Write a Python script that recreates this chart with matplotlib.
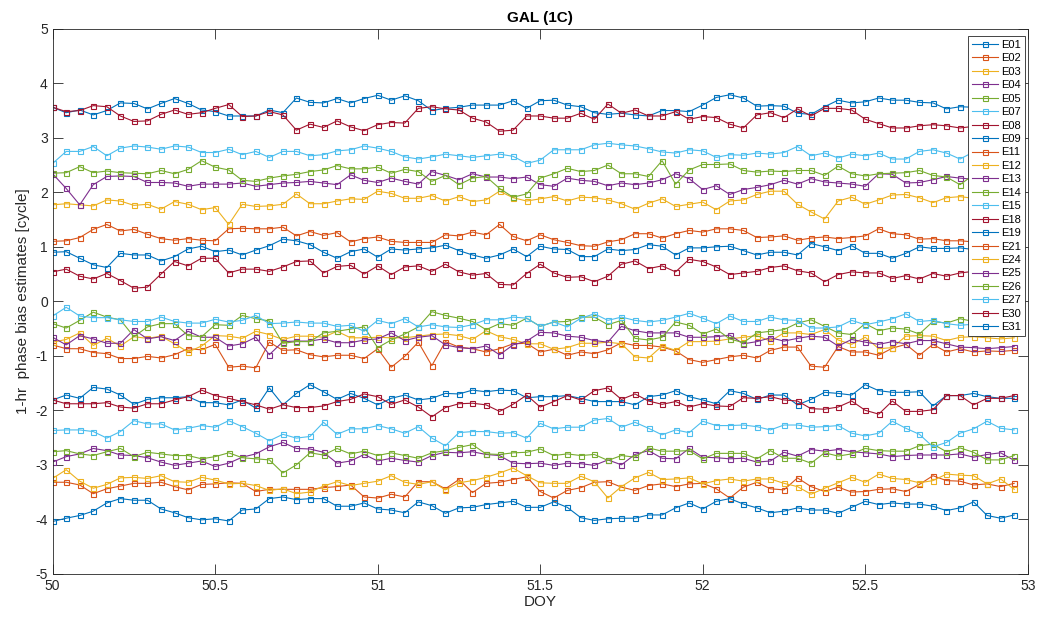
import numpy as np
import matplotlib
matplotlib.use("Agg")
import matplotlib.pyplot as plt

plt.rcParams['font.family'] = ['Liberation Sans', 'DejaVu Sans']
plt.rcParams['axes.unicode_minus'] = False

# hourly epochs, DOY 50.0 ... 52.958 (72 samples)
doy = 50 + np.arange(72) / 24

sats = ["E01", "E02", "E03", "E04", "E05", "E07", "E08", "E09", "E11", "E12", "E13",
        "E14", "E15", "E18", "E19", "E21", "E24", "E25", "E26", "E27", "E30", "E31"]

e01 = [3.56, 3.46, 3.51, 3.42, 3.50, 3.64, 3.63, 3.53, 3.63, 3.72, 3.63, 3.51, 3.48, 3.40, 3.40, 3.40, 3.51, 3.46, 3.73, 3.65, 3.64, 3.72, 3.64, 3.72, 3.78,
       3.69, 3.77, 3.68, 3.50, 3.54, 3.56, 3.60, 3.60, 3.60, 3.68, 3.54, 3.68, 3.69, 3.60, 3.57, 3.46, 3.43, 3.45, 3.42, 3.40, 3.50, 3.50, 3.48,
       3.60, 3.74, 3.79, 3.73, 3.58, 3.59, 3.58, 3.45, 3.43, 3.57, 3.69, 3.64, 3.66, 3.73, 3.69, 3.69, 3.65, 3.64, 3.53, 3.57, 3.56, 3.54, 3.57, 3.54]
e02 = [1.10, 1.11, 1.17, 1.32, 1.41, 1.29, 1.32, 1.23, 1.15, 1.12, 1.15, 1.12, 1.11, 1.33, 1.34, 1.33, 1.33, 1.36, 1.20, 1.28, 1.21, 1.26, 1.09, 1.15, 1.18,
       1.10, 1.08, 1.08, 1.08, 1.22, 1.20, 1.27, 1.22, 1.41, 1.19, 1.11, 1.22, 1.13, 1.08, 1.02, 1.01, 1.09, 1.13, 1.24, 1.24, 1.16, 1.24, 1.30,
       1.27, 1.33, 1.33, 1.30, 1.17, 1.18, 1.20, 1.12, 1.16, 1.18, 1.15, 1.17, 1.20, 1.33, 1.24, 1.22, 1.14, 1.15, 1.11, 1.11, 1.09, 1.07, 1.08, 1.06]
e03 = [1.77, 1.79, 1.77, 1.75, 1.86, 1.84, 1.76, 1.78, 1.69, 1.83, 1.78, 1.68, 1.72, 1.41, 1.78, 1.74, 1.75, 1.78, 1.97, 1.79, 1.79, 1.84, 1.88, 1.87, 2.02,
       1.98, 1.89, 1.89, 1.94, 1.84, 1.92, 1.83, 1.86, 2.02, 1.90, 1.84, 1.88, 1.92, 1.84, 1.91, 1.90, 1.86, 1.79, 1.69, 1.80, 1.88, 1.74, 1.78,
       1.82, 1.68, 1.84, 1.86, 1.96, 2.02, 2.02, 1.78, 1.64, 1.51, 1.84, 1.91, 1.78, 1.86, 1.95, 1.96, 1.90, 1.81, 1.90, 1.92, 1.89, 1.88, 1.90, 1.87]
e04 = [2.34, 2.07, 1.77, 2.14, 2.29, 2.30, 2.29, 2.18, 2.18, 2.17, 2.11, 2.15, 2.15, 2.15, 2.17, 2.11, 2.14, 2.17, 2.18, 2.20, 2.17, 2.14, 2.32, 2.22, 2.18,
       2.26, 2.20, 2.15, 2.38, 2.31, 2.23, 2.34, 2.28, 2.28, 2.25, 2.28, 2.14, 2.11, 2.26, 2.22, 2.20, 2.12, 2.17, 2.14, 2.17, 2.23, 2.34, 2.25,
       2.05, 2.12, 1.96, 2.05, 2.09, 2.14, 2.22, 2.15, 2.25, 2.19, 2.17, 2.15, 2.11, 2.34, 2.33, 2.17, 2.18, 2.23, 2.29, 2.26, 2.24, 2.20, 2.18, 2.19]
e05 = [2.35, 2.36, 2.47, 2.36, 2.39, 2.36, 2.35, 2.34, 2.40, 2.34, 2.42, 2.58, 2.46, 2.41, 2.22, 2.20, 2.26, 2.30, 2.33, 2.38, 2.41, 2.49, 2.43, 2.43, 2.46,
       2.35, 2.42, 2.38, 2.20, 2.31, 2.14, 2.26, 2.29, 2.07, 1.91, 1.97, 2.26, 2.34, 2.44, 2.38, 2.40, 2.50, 2.34, 2.34, 2.29, 2.58, 2.15, 2.41,
       2.51, 2.51, 2.52, 2.40, 2.37, 2.39, 2.38, 2.40, 2.40, 2.31, 2.48, 2.34, 2.30, 2.34, 2.35, 2.36, 2.40, 2.31, 2.28, 2.14, 2.32, 2.29, 2.27, 2.24]
e07 = [2.53, 2.75, 2.75, 2.84, 2.67, 2.81, 2.85, 2.83, 2.79, 2.85, 2.83, 2.73, 2.73, 2.79, 2.69, 2.75, 2.64, 2.75, 2.75, 2.67, 2.69, 2.76, 2.78, 2.85, 2.81,
       2.75, 2.65, 2.61, 2.65, 2.70, 2.67, 2.64, 2.67, 2.70, 2.66, 2.53, 2.59, 2.78, 2.78, 2.78, 2.87, 2.90, 2.87, 2.85, 2.80, 2.74, 2.72, 2.78,
       2.76, 2.64, 2.69, 2.68, 2.72, 2.70, 2.73, 2.84, 2.67, 2.72, 2.63, 2.70, 2.67, 2.72, 2.61, 2.61, 2.75, 2.78, 2.72, 2.61, 2.74, 2.70, 2.72, 2.69]
e08 = [3.56, 3.48, 3.50, 3.59, 3.57, 3.40, 3.30, 3.31, 3.43, 3.51, 3.43, 3.46, 3.54, 3.61, 3.39, 3.40, 3.48, 3.42, 3.14, 3.25, 3.19, 3.31, 3.20, 3.13, 3.24,
       3.28, 3.27, 3.54, 3.57, 3.53, 3.51, 3.36, 3.29, 3.12, 3.14, 3.40, 3.40, 3.36, 3.36, 3.45, 3.34, 3.62, 3.45, 3.51, 3.40, 3.40, 3.48, 3.34,
       3.39, 3.37, 3.25, 3.18, 3.42, 3.46, 3.37, 3.53, 3.40, 3.54, 3.54, 3.51, 3.34, 3.26, 3.18, 3.18, 3.22, 3.24, 3.22, 3.18, 3.21, 3.22, 3.20, 3.19]
e09 = [0.90, 0.91, 0.79, 0.67, 0.62, 0.88, 0.85, 0.85, 0.74, 0.82, 0.96, 1.01, 0.91, 0.94, 0.85, 0.94, 1.02, 1.14, 1.11, 1.04, 0.90, 0.79, 0.91, 0.96, 0.81,
       0.96, 0.94, 0.96, 0.98, 1.03, 0.93, 0.85, 0.79, 0.85, 0.96, 0.82, 1.01, 0.96, 0.95, 0.82, 0.82, 0.96, 0.93, 0.95, 1.04, 1.01, 0.85, 0.98,
       0.98, 1.00, 1.01, 0.93, 0.85, 0.90, 0.90, 0.85, 1.06, 1.00, 0.93, 1.02, 0.88, 0.88, 0.79, 0.88, 1.00, 0.97, 0.97, 0.98, 0.95, 0.96, 0.94, 0.95]
e11 = [-0.80, -0.87, -0.87, -0.94, -0.96, -1.05, -1.05, -1.01, -1.04, -0.98, -0.87, -0.89, -0.79, -1.21, -1.19, -1.22, -0.75, -0.90, -0.89, -0.98, -1.02, -0.99, -0.99, -1.05, -0.87,
       -1.21, -1.01, -0.75, -1.18, -0.74, -0.84, -0.87, -0.93, -0.87, -0.78, -0.77, -0.93, -0.88, -0.99, -0.93, -0.96, -0.89, -0.76, -0.81, -0.81, -0.84, -0.91, -1.07,
       -1.12, -1.07, -1.02, -0.99, -1.04, -0.90, -0.84, -0.84, -1.19, -1.21, -0.83, -0.93, -0.93, -0.99, -0.86, -0.79, -0.99, -0.79, -0.93, -0.87, -0.93, -0.91, -0.92, -0.90]
e12 = [-0.75, -0.70, -0.58, -0.81, -0.68, -0.82, -0.65, -0.68, -0.64, -0.78, -0.93, -0.82, -0.63, -0.64, -0.68, -0.55, -0.61, -0.70, -0.64, -0.64, -0.66, -0.55, -0.67, -0.67, -0.66,
       -0.67, -0.67, -0.64, -0.61, -0.60, -0.63, -0.70, -0.54, -0.65, -0.70, -0.78, -0.78, -0.88, -0.85, -0.77, -0.77, -0.75, -0.78, -1.02, -1.04, -0.82, -0.90, -0.74,
       -0.74, -0.73, -0.69, -0.66, -0.63, -0.73, -0.58, -0.58, -0.61, -0.52, -0.71, -0.79, -0.66, -0.87, -0.85, -0.64, -0.63, -0.64, -0.72, -0.66, -0.65, -0.67, -0.69, -0.67]
e13 = [-0.66, -0.80, -0.63, -0.69, -0.77, -0.77, -0.52, -0.69, -0.65, -0.72, -0.55, -0.66, -0.66, -0.82, -0.78, -0.66, -0.98, -0.74, -0.73, -0.73, -0.69, -0.76, -0.76, -0.71, -0.69,
       -0.58, -0.72, -0.66, -0.63, -0.80, -0.85, -0.87, -0.82, -0.98, -0.80, -0.73, -0.57, -0.58, -0.64, -0.66, -0.72, -0.75, -0.46, -0.54, -0.58, -0.58, -0.58, -0.66,
       -0.66, -0.65, -0.62, -0.78, -0.74, -0.67, -0.73, -0.68, -0.64, -0.66, -0.82, -0.70, -0.75, -0.79, -0.74, -0.78, -0.72, -0.72, -0.78, -0.84, -0.85, -0.87, -0.85, -0.83]
e14 = [-0.41, -0.49, -0.35, -0.20, -0.29, -0.34, -0.65, -0.47, -0.41, -0.41, -0.63, -0.65, -0.43, -0.44, -0.26, -0.32, -0.36, -0.77, -0.74, -0.74, -0.58, -0.55, -0.51, -0.47, -0.85,
       -0.71, -0.60, -0.47, -0.19, -0.26, -0.31, -0.37, -0.52, -0.41, -0.44, -0.31, -0.46, -0.38, -0.37, -0.29, -0.29, -0.43, -0.35, -0.68, -0.71, -0.66, -0.38, -0.44,
       -0.60, -0.51, -0.69, -0.76, -0.58, -0.55, -0.52, -0.40, -0.34, -0.46, -0.58, -0.61, -0.41, -0.54, -0.49, -0.51, -0.60, -0.37, -0.40, -0.32, -0.37, -0.42, -0.45, -0.43]
e15 = [-0.27, -0.11, -0.27, -0.30, -0.30, -0.34, -0.37, -0.37, -0.29, -0.37, -0.40, -0.40, -0.33, -0.38, -0.35, -0.26, -0.41, -0.40, -0.38, -0.40, -0.40, -0.46, -0.44, -0.55, -0.35,
       -0.41, -0.32, -0.47, -0.43, -0.47, -0.48, -0.43, -0.34, -0.34, -0.29, -0.31, -0.46, -0.38, -0.47, -0.31, -0.23, -0.35, -0.29, -0.35, -0.38, -0.35, -0.29, -0.22,
       -0.31, -0.41, -0.27, -0.37, -0.37, -0.29, -0.34, -0.35, -0.49, -0.49, -0.47, -0.35, -0.43, -0.38, -0.32, -0.23, -0.37, -0.35, -0.41, -0.44, -0.42, -0.40, -0.41, -0.39]
e18 = [0.54, 0.59, 0.46, 0.41, 0.51, 0.38, 0.24, 0.26, 0.50, 0.73, 0.65, 0.79, 0.79, 0.52, 0.59, 0.59, 0.55, 0.63, 0.73, 0.74, 0.52, 0.64, 0.66, 0.50, 0.65,
       0.49, 0.63, 0.65, 0.55, 0.68, 0.54, 0.48, 0.51, 0.31, 0.30, 0.51, 0.68, 0.52, 0.44, 0.45, 0.36, 0.46, 0.68, 0.74, 0.60, 0.65, 0.54, 0.77,
       0.73, 0.63, 0.49, 0.52, 0.55, 0.62, 0.65, 0.56, 0.52, 0.36, 0.49, 0.54, 0.52, 0.52, 0.42, 0.47, 0.41, 0.51, 0.46, 0.52, 0.55, 0.53, 0.51, 0.53]
e19 = [-1.81, -1.72, -1.78, -1.58, -1.61, -1.72, -1.89, -1.80, -1.77, -1.77, -1.75, -1.86, -1.86, -1.90, -1.81, -1.96, -1.59, -1.90, -1.69, -1.53, -1.66, -1.80, -1.69, -1.78, -1.90,
       -1.78, -1.72, -1.81, -1.78, -1.69, -1.70, -1.63, -1.66, -1.63, -1.64, -1.77, -1.75, -1.75, -1.73, -1.78, -1.84, -1.84, -1.84, -1.90, -1.75, -1.72, -1.64, -1.75,
       -1.81, -1.88, -1.64, -1.69, -1.80, -1.72, -1.72, -1.90, -1.80, -1.67, -1.69, -1.72, -1.53, -1.64, -1.67, -1.67, -1.66, -1.92, -1.73, -1.73, -1.69, -1.75, -1.78, -1.78]
e21 = [-3.32, -3.32, -3.37, -3.53, -3.44, -3.39, -3.34, -3.34, -3.32, -3.40, -3.46, -3.36, -3.35, -3.33, -3.34, -3.49, -3.45, -3.45, -3.45, -3.45, -3.42, -3.40, -3.37, -3.59, -3.61,
       -3.54, -3.59, -3.31, -3.31, -3.44, -3.27, -3.51, -3.34, -3.32, -3.27, -3.22, -3.49, -3.61, -3.47, -3.42, -3.32, -3.31, -3.41, -3.47, -3.38, -3.35, -3.40, -3.35,
       -3.34, -3.44, -3.61, -3.41, -3.32, -3.44, -3.46, -3.24, -3.40, -3.49, -3.41, -3.50, -3.49, -3.45, -3.44, -3.49, -3.36, -3.20, -3.29, -3.30, -3.37, -3.35, -3.40, -3.34]
e24 = [-3.25, -3.09, -3.30, -3.43, -3.36, -3.24, -3.23, -3.25, -3.20, -3.31, -3.32, -3.23, -3.28, -3.35, -3.34, -3.38, -3.47, -3.44, -3.53, -3.50, -3.39, -3.31, -3.38, -3.34, -3.30,
       -3.20, -3.32, -3.36, -3.31, -3.46, -3.33, -3.29, -3.23, -3.15, -3.06, -3.20, -3.33, -3.34, -3.34, -3.21, -3.31, -3.61, -3.40, -3.24, -3.14, -3.27, -3.26, -3.24,
       -3.35, -3.29, -3.26, -3.30, -3.26, -3.26, -3.34, -3.40, -3.54, -3.43, -3.33, -3.23, -3.32, -3.17, -3.25, -3.27, -3.33, -3.29, -3.17, -3.19, -3.20, -3.35, -3.26, -3.45]
e25 = [-2.95, -2.85, -2.80, -2.70, -2.74, -2.82, -2.83, -2.87, -2.95, -3.01, -2.97, -2.93, -3.03, -2.97, -2.86, -2.80, -2.67, -2.59, -2.70, -2.71, -2.77, -2.97, -2.93, -2.81, -2.93,
       -2.88, -2.92, -2.95, -2.83, -2.77, -2.78, -2.76, -2.81, -2.83, -2.97, -2.98, -2.97, -3.01, -2.97, -2.98, -3.01, -2.91, -3.00, -2.81, -2.74, -2.88, -2.89, -2.70,
       -2.86, -2.87, -2.89, -2.88, -2.95, -2.93, -2.77, -2.84, -2.72, -2.75, -2.72, -2.76, -2.78, -2.80, -2.85, -2.83, -2.82, -2.82, -2.82, -2.80, -2.86, -2.81, -2.78, -2.92]
e26 = [-2.76, -2.74, -2.80, -2.83, -2.76, -2.70, -2.85, -2.77, -2.80, -2.83, -2.83, -2.89, -2.85, -2.78, -2.87, -2.89, -2.91, -3.15, -3.00, -2.78, -2.82, -2.70, -2.80, -2.75, -2.83,
       -2.78, -2.83, -2.88, -2.78, -2.74, -2.68, -2.63, -2.80, -2.81, -2.78, -2.77, -2.71, -2.83, -2.80, -2.83, -2.81, -2.92, -2.83, -2.86, -2.69, -2.75, -2.75, -2.74,
       -2.89, -2.79, -2.79, -2.79, -2.89, -2.74, -2.88, -2.88, -2.97, -2.78, -2.84, -2.80, -2.70, -2.74, -2.75, -2.75, -2.65, -2.62, -2.76, -2.69, -2.77, -2.91, -2.91, -2.83]
e27 = [-2.37, -2.36, -2.36, -2.39, -2.51, -2.39, -2.19, -2.25, -2.25, -2.36, -2.33, -2.28, -2.31, -2.19, -2.30, -2.42, -2.56, -2.44, -2.51, -2.48, -2.22, -2.44, -2.34, -2.34, -2.28,
       -2.34, -2.42, -2.30, -2.51, -2.65, -2.41, -2.39, -2.39, -2.42, -2.41, -2.51, -2.24, -2.34, -2.31, -2.31, -2.18, -2.15, -2.31, -2.22, -2.33, -2.45, -2.36, -2.41,
       -2.20, -2.28, -2.28, -2.27, -2.30, -2.36, -2.27, -2.27, -2.31, -2.30, -2.28, -2.42, -2.47, -2.42, -2.20, -2.33, -2.44, -2.67, -2.59, -2.42, -2.34, -2.20, -2.33, -2.36]
e30 = [-1.81, -1.88, -1.88, -1.88, -1.86, -1.94, -1.96, -1.88, -1.88, -1.81, -1.75, -1.63, -1.73, -1.78, -1.84, -1.90, -1.98, -1.90, -1.95, -1.95, -1.92, -1.84, -1.80, -1.70, -1.75,
       -1.89, -1.81, -1.94, -2.12, -1.95, -1.88, -1.87, -1.90, -2.02, -1.89, -1.72, -1.94, -1.84, -1.73, -1.81, -1.64, -1.59, -1.80, -1.70, -1.83, -1.89, -1.84, -1.94,
       -1.88, -1.92, -1.93, -1.77, -1.78, -1.75, -1.81, -1.83, -1.97, -1.98, -1.94, -1.83, -2.00, -2.07, -1.83, -2.02, -2.02, -1.99, -1.73, -1.73, -1.90, -1.78, -1.78, -1.73]
e31 = [-4.04, -3.98, -3.93, -3.85, -3.70, -3.62, -3.65, -3.65, -3.81, -3.88, -3.97, -4.01, -3.99, -4.03, -3.83, -3.81, -3.62, -3.59, -3.64, -3.62, -3.62, -3.76, -3.76, -3.70, -3.81,
       -3.83, -3.88, -3.68, -3.75, -3.89, -3.79, -3.78, -3.73, -3.70, -3.67, -3.78, -3.78, -3.68, -3.78, -3.97, -4.02, -3.99, -3.98, -3.98, -3.92, -3.92, -3.79, -3.70,
       -3.81, -3.67, -3.62, -3.72, -3.79, -3.88, -3.85, -3.79, -3.83, -3.83, -3.89, -3.78, -3.67, -3.73, -3.70, -3.72, -3.72, -3.76, -3.84, -3.79, -3.68, -3.93, -3.98, -3.92]

bias = [e01, e02, e03, e04, e05, e07, e08, e09, e11, e12, e13,
        e14, e15, e18, e19, e21, e24, e25, e26, e27, e30, e31]

# MATLAB default color order
colors = ["#0072BD", "#D95319", "#EDB120", "#7E2F8E", "#77AC30", "#4DBEEE", "#A2142F"]

fig = plt.figure(figsize=(10.53, 6.19), dpi=100)
ax = fig.add_axes([0.050, 0.073, 0.926, 0.8805])

for i, (name, vals) in enumerate(zip(sats, bias)):
    ax.plot(doy, vals, color=colors[i % 7], marker='s', markersize=3.6,
            markerfacecolor='none', markeredgewidth=0.8, linewidth=0.8, label=name)

ax.set_xlim(50, 53)
ax.set_ylim(-5, 5)
ax.set_xticks([50, 50.5, 51, 51.5, 52, 52.5, 53])
ax.set_xticklabels(["50", "50.5", "51", "51.5", "52", "52.5", "53"])
ax.set_yticks(range(-5, 6))
ax.tick_params(direction='in', length=7, width=0.6, labelsize=10, colors='#262626',
               top=True, right=True)
for sp in ax.spines.values():
    sp.set_linewidth(0.6)
    sp.set_color('#262626')

ax.set_title("GAL (1C)", fontsize=11, fontweight='bold', pad=5)
ax.set_xlabel("DOY", fontsize=11, color='#262626', labelpad=2)
ax.set_ylabel("1-hr  phase bias estimates [cycle]", fontsize=11, color='#262626', labelpad=4)

leg = ax.legend(loc='upper right', bbox_to_anchor=(0.9734, 0.9418),
                bbox_transform=fig.transFigure, borderaxespad=0,
                fontsize=8, labelspacing=0.31, handlelength=2.35,
                handletextpad=0.25, borderpad=0.35,
                fancybox=False, framealpha=1, edgecolor='#262626')
leg.get_frame().set_linewidth(0.6)

fig.savefig("out.png", dpi=100)
